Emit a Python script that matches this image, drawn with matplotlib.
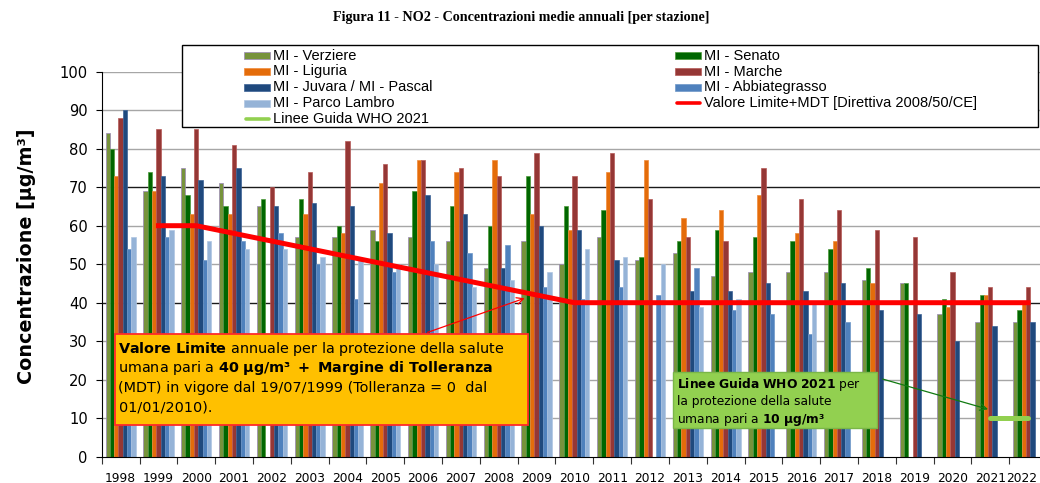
import numpy as np
import matplotlib.pyplot as plt
import matplotlib.transforms as mtransforms
from matplotlib.patches import Rectangle, FancyArrowPatch
from matplotlib.lines import Line2D

plt.rcParams['font.family'] = 'DejaVu Sans'
plt.rcParams['mathtext.fontset'] = 'dejavusans'

nan = np.nan
years = list(range(1998, 2023))

## annual means per station (ug/m3)
verziere = [84, 69, 75, 71, 65, 57, 57, 59, 57, 56, 49, 56, 50, 57, 51, 53, 47, 48, 48, 48, 46, 45, 37, 35, 35]
senato = [80, 74, 68, 65, 67, 67, 60, 56, 69, 65, 60, 73, 65, 64, 52, 56, 59, 57, 56, 54, 49, 45, 41, 42, 38]
liguria = [73, 69, 63, 63, nan, 63, 58, 71, 77, 74, 77, 63, 59, 74, 77, 62, 64, 68, 58, 56, 45, nan, 39, 42, 40]
marche = [88, 85, 85, 81, 70, 74, 82, 76, 77, 75, 73, 79, 73, 79, 67, 57, 56, 75, 67, 64, 59, 57, 48, 44, 44]
juvara = [90, 73, 72, 75, 65, 66, 65, 58, 68, 63, 49, 60, 59, 51, nan, 43, 43, 45, 43, 45, 38, 37, 30, 34, 35]
abbiategrasso = [54, 57, 51, 56, 58, 50, 41, 48, 56, 53, 55, 44, 41, 44, 42, 49, 38, 37, 32, 35, nan, nan, nan, nan, nan]
parco_lambro = [57, 59, 56, 54, 54, 52, 51, 50, 50, 44, 46, 48, 54, 52, 50, 39, 41, nan, 40, nan, nan, nan, nan, nan, nan]

## limit value + margin of tolerance, WHO 2021 guideline
limite_mdt = [nan, 60, 60, 58, 56, 54, 52, 50, 48, 46, 44, 42, 40, 40, 40, 40, 40, 40, 40, 40, 40, 40, 40, 40, 40]
who_2021 = [nan] * 23 + [10, 10]

series = [
    ("MI - Verziere", verziere, "#77933C", "#9B88B8"),
    ("MI - Senato", senato, "#006600", "#4E9A3A"),
    ("MI - Liguria", liguria, "#E46C0A", "#F08A3A"),
    ("MI - Marche", marche, "#953735", "#B65A58"),
    ("MI - Juvara / MI - Pascal", juvara, "#1F497D", "#3C6296"),
    ("MI - Abbiategrasso", abbiategrasso, "#4F81BD", "#6E97C8"),
    ("MI - Parco Lambro", parco_lambro, "#95B3D7", "#B0C6E2"),
]

W, H = 1040, 483
fig = plt.figure(figsize=(W / 100, H / 100), dpi=100)

def fx(v):
    return v / W

def fy(v):
    return 1 - v / H

ax = fig.add_axes([fx(101.7), fy(456.7), (1047 - 101.7) / W, (456.7 - 71.7) / H])
x = np.arange(len(years))
bw = 0.114
for j, (name, vals, fc, ec) in enumerate(series):
    ax.bar(x + (j - 3) * bw, vals, width=bw, color=fc, edgecolor=ec, linewidth=0.5, zorder=2)

ax.plot(x, limite_mdt, color="#FF0000", lw=3.6, zorder=3)
ax.plot(x, who_2021, color="#92D050", lw=3.6, zorder=3, solid_capstyle="round")

ax.set_xlim(-0.5, len(years) - 0.5)
ax.set_ylim(0, 100)
ax.set_yticks(range(0, 101, 10))
for v in range(10, 101, 10):
    c = "#1a1a1a" if v in (40, 70) else "#A6A6A6"
    ax.axhline(v, color=c, lw=1, zorder=1)
ax.set_xticks(np.arange(-0.5, len(years), 1))
ax.set_xticklabels([])
ax.set_xticks(x, minor=True)
ax.set_xticklabels([str(y) for y in years], minor=True)
ax.tick_params(axis="x", which="major", length=5, direction="out", color="#333333")
ax.tick_params(axis="x", which="minor", length=0, pad=11, labelsize=8.8)
ax.tick_params(axis="y", length=4, pad=6, labelsize=10.6)
for s in ("top", "right"):
    ax.spines[s].set_visible(False)
# last year label sits at the cropped right edge, nudge it in like the original
last = ax.get_xticklabels(minor=True)[-1]
last.set_transform(last.get_transform() + mtransforms.ScaledTranslation(-6 / 100, 0, fig.dpi_scale_trans))

fig.text(fx(521), fy(17), "Figura 11 - NO2 - Concentrazioni medie annuali [per stazione]",
         ha="center", va="center", family="Liberation Serif", fontweight="bold", fontsize=10.2)
fig.text(fx(27), fy(256), "Concentrazione [μg/m³]", rotation=90, ha="center", va="center",
         fontweight="bold", fontsize=13.8)

## legend, drawn by hand in a white box
fig.patches.append(Rectangle((fx(182), fy(127)), (1038 - 182) / W, (127 - 45) / H,
                             transform=fig.transFigure, fc="white", ec="black", lw=1, zorder=5))
entries = []
for name, vals, fc, ec in series:
    entries.append(("bar", name, fc, ec))
entries.insert(7, ("line", "Valore Limite+MDT [Direttiva 2008/50/CE]", "#FF0000", None))
entries.append(("line", "Linee Guida WHO 2021", "#92D050", None))
for i, (kind, name, fc, ec) in enumerate(entries):
    cx = 244 if i % 2 == 0 else 675
    cy = 55.7 + 15.8 * (i // 2)
    if kind == "bar":
        fig.patches.append(Rectangle((fx(cx), fy(cy + 3.5)), 26 / W, 7 / H, transform=fig.transFigure,
                                     fc=fc, ec=ec, lw=0.5, zorder=6))
    else:
        fig.lines.append(Line2D([fx(cx + 2), fx(cx + 25)], [fy(cy), fy(cy)], transform=fig.transFigure,
                                color=fc, lw=2.6, solid_capstyle="round", zorder=6))
    fig.text(fx(cx + 29), fy(cy), name, ha="left", va="center", family="Liberation Sans",
             fontsize=10.5, zorder=7)

## annotation boxes
fig.patches.append(Rectangle((fx(115), fy(425)), (528 - 115) / W, (425 - 334) / H,
                             transform=fig.transFigure, fc="#FFC000", ec="#FF2a2a", lw=1.3, zorder=5))
box1 = [
    r"$\bf{Valore\ Limite}$ annuale per la protezione della salute",
    r"umana pari a $\bf{40\ \mu g/m³\ +\ Margine\ di\ Tolleranza}$",
    "(MDT) in vigore dal 19/07/1999 (Tolleranza = 0  dal",
    "01/01/2010).",
]
for k, line in enumerate(box1):
    fig.text(fx(118.5), fy(352.7 + 19.6 * k), line, ha="left", va="baseline", fontsize=10.4, zorder=7)
fig.patches.append(FancyArrowPatch((fx(425), fy(333.3)), (fx(527.3), fy(297.3)), transform=fig.transFigure,
                                   arrowstyle="->", mutation_scale=12, color="#FF0000", lw=0.9, zorder=7))

fig.patches.append(Rectangle((fx(672.7), fy(428.3)), (877.3 - 672.7) / W, (428.3 - 372.3) / H,
                             transform=fig.transFigure, fc="#92D050", ec="#7AB648", lw=1, zorder=5))
box2 = [
    r"$\bf{Linee\ Guida\ WHO\ 2021}$ per",
    "la protezione della salute",
    r"umana pari a $\bf{10\ \mu g/m³}$",
]
for k, line in enumerate(box2):
    fig.text(fx(676.7), fy(388.3 + 17.2 * k), line, ha="left", va="baseline", fontsize=8.8, zorder=7)
fig.patches.append(FancyArrowPatch((fx(880), fy(378.3)), (fx(990.7), fy(410)), transform=fig.transFigure,
                                   arrowstyle="->", mutation_scale=12, color="#117A11", lw=0.9, zorder=7))

fig.savefig("out.png", dpi=100)
